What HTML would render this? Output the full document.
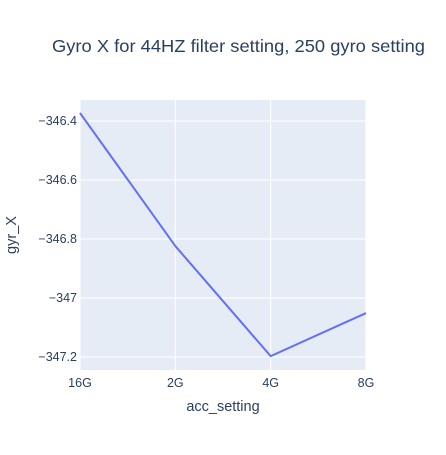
<!DOCTYPE html>
<html><head><meta charset="utf-8"><style>
body{margin:0;background:#fff;font-family:"Liberation Sans",sans-serif;}
svg text{fill:#2a3f5f;font-family:"Liberation Sans",sans-serif;}
</style></head><body>
<svg id="c" width="446" height="450"></svg>
<script>
const categories=["16G","2G","4G","8G"];
const gyrValues=[-346.373,-346.824,-347.197,-347.051];
const yTickValues=[-346.4,-346.6,-346.8,-347,-347.2];
const yTickLabels=["−346.4","−346.6","−346.8","−347","−347.2"];
const L=80,R=366,T=100,B=370,yMin=-347.244,yMax=-346.329;
const NS="http://www.w3.org/2000/svg";
const svg=document.getElementById('c');
const xs=i=>L+i*(R-L)/(categories.length-1);
const ys=v=>T+(yMax-v)/(yMax-yMin)*(B-T);
function mk(t,a,p){const e=document.createElementNS(NS,t);for(const k in a)e.setAttribute(k,a[k]);(p||svg).appendChild(e);return e;}
const bg=mk('rect',{x:L,y:T,width:R-L,height:B-T,fill:'#e5ecf6'});


categories.forEach((c,i)=>{
 const g=mk('line',{x1:xs(i),x2:xs(i),y1:T,y2:B,stroke:'#fff','stroke-width':1});
 
 
 const t=mk('text',{x:xs(i),y:B+17,'text-anchor':'middle','font-size':12.5});t.textContent=c;
 
 
});
yTickValues.forEach((v,i)=>{
 const g=mk('line',{x1:L,x2:R,y1:ys(v),y2:ys(v),stroke:'#fff','stroke-width':1});
 
 
 const t=mk('text',{x:L-3,y:ys(v)+4,'text-anchor':'end','font-size':12.5});t.textContent=yTickLabels[i];
 
 
});
const line=mk('polyline',{points:gyrValues.map((v,i)=>xs(i)+','+ys(v)).join(' '),fill:'none',stroke:'#636efa','stroke-width':2,'stroke-linejoin':'round'});


const ti=mk('text',{x:52,y:52,'font-size':17.5,textLength:373,lengthAdjust:'spacingAndGlyphs'});ti.textContent="Gyro X for 44HZ filter setting, 250 gyro setting";


const xt=mk('text',{x:(L+R)/2,y:411,'text-anchor':'middle','font-size':14.5});xt.textContent="acc_setting";


const yt=mk('text',{x:16,y:(T+B)/2,'text-anchor':'middle','font-size':14.5,transform:`rotate(-90 16 ${(T+B)/2})`});yt.textContent="gyr_X";


</script>
</body></html>
